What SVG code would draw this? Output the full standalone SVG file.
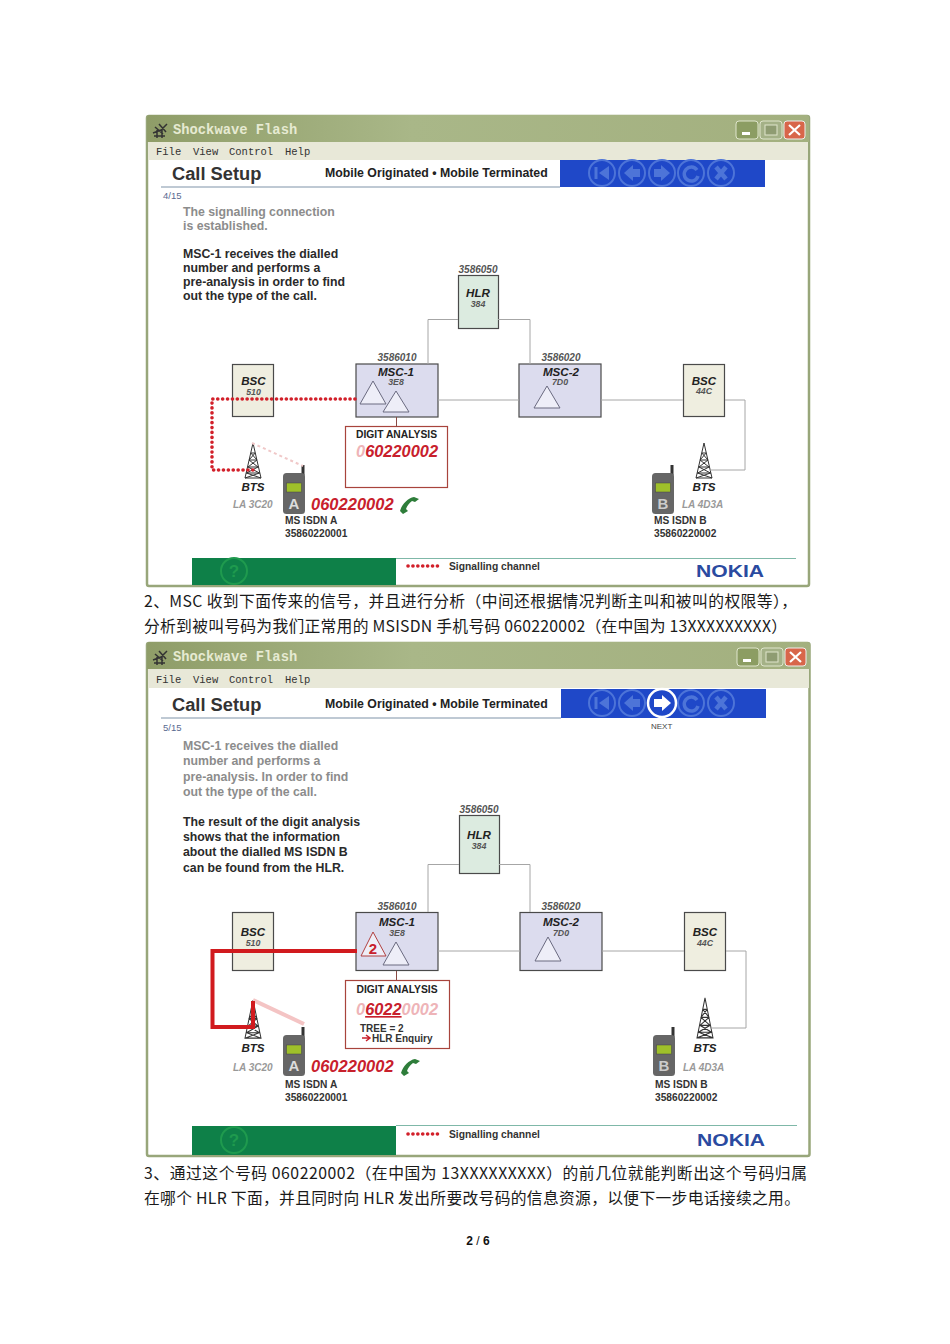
<svg xmlns="http://www.w3.org/2000/svg" width="950" height="1344" viewBox="0 0 950 1344">
<style>
text{font-family:"Liberation Sans",Arial,sans-serif;fill:#222}
.b{font-weight:bold}
.i{font-style:italic}
.c{text-anchor:middle}
.cn{font-family:"Noto Sans CJK SC","Noto Sans",sans-serif;font-size:15.800px;fill:#1a1a1a}
.ttl{font-family:"Liberation Mono",monospace;font-weight:bold;font-size:13.800px;fill:#e6ead2}
.menu{font-family:"Liberation Mono",monospace;font-size:10.500px;fill:#333}
.body{font-size:12.300px;font-weight:bold;fill:#2a2a2a}
.grey{font-size:12.300px;font-weight:bold;fill:#8c8c8c}
.node{stroke:#4a4a4a;stroke-width:1.200}
.link{fill:none;stroke:#a6a6a6;stroke-width:1}
.bsc{fill:#efeee0}.hlr{fill:#dcebe0}.msc{fill:#dcdcee}
.tri{fill:#eeeef8;stroke:#6a6a80;stroke-width:1}
.nm{font-size:11.600px;font-weight:bold;font-style:italic;text-anchor:middle}
.sb{font-size:8.800px;font-weight:bold;font-style:italic;text-anchor:middle;fill:#555}
.addr{font-size:10px;font-weight:bold;font-style:italic;text-anchor:middle;fill:#555}
.la{font-size:10px;font-weight:bold;font-style:italic;fill:#999}
.ms{font-size:10.200px;font-weight:bold;fill:#333}
.num{font-size:16.500px;font-weight:bold;font-style:italic;fill:#c8202c}
.sig{fill:none;stroke:#d2202a;stroke-width:3.600;stroke-dasharray:0.100 4.800;stroke-linecap:round}
.nav{fill:none;stroke:#4d74d8;stroke-width:2}
.navf{fill:#4d74d8}
.nok{font-size:16.500px;font-weight:bold;fill:#2a4aa0}
.sgl{font-size:10.300px;font-weight:bold;fill:#333}
.hd{font-size:18.300px;font-weight:bold;fill:#333}
.sub{font-size:12.300px;font-weight:bold;fill:#222}
.pg{font-size:9.500px;fill:#5a6a90}
</style>
<defs>
<linearGradient id="tb" x1="0" y1="0" x2="1" y2="0"><stop offset="0" stop-color="#8f9d68"/><stop offset="0.4" stop-color="#a9b788"/><stop offset="1" stop-color="#a3b07f"/></linearGradient>
<g id="tower" fill="none" stroke="#333" stroke-width="1"><path d="M0 0L-8 35L8 35ZM-2.200 10L4 17L-5 24L6.500 30L-8 35M2.200 10L-4 17L5 24L-6.500 30L8 35M-2.200 10H2.200M-4 17H4M-5.500 24H5.500M-6.800 30H6.800"/></g>
<g id="phone"><rect x="18.500" y="-2" width="3" height="10" fill="#333"/><rect x="0" y="6" width="22" height="41" rx="3.500" fill="#666"/><rect x="3.500" y="16" width="15" height="9" fill="#9fc02a" stroke="#444" stroke-width="0.500"/></g>
<g id="handset"><path d="M0 15C2 8 8 2 14 1L19 3L15 6L12 5C9 7 7 10 6 13L8 15L3 18Z" fill="#2e7d3a"/></g>
<g id="nav"><circle cx="0" cy="0" r="13" class="nav"/></g>
<g id="ctrls"><rect x="0" y="0" width="22" height="18" rx="3" fill="#8c9d63" stroke="#dfe5cc"/><rect x="6" y="11" width="8" height="3" fill="#fff"/>
<rect x="24" y="0" width="22" height="18" rx="3" fill="#a4b187" stroke="#dfe5cc"/><rect x="29" y="4" width="12" height="10" fill="#8f9c72" stroke="#dfe5cc"/>
<rect x="48" y="0" width="21" height="18" rx="3" fill="#d8664a" stroke="#eee"/><path d="M53 4L64 14M64 4L53 14" stroke="#fff" stroke-width="2.200"/></g>
<g id="navs"><use href="#nav" x="13"/><use href="#nav" x="43"/><use href="#nav" x="73"/><use href="#nav" x="102"/><use href="#nav" x="132"/>
<path d="M7 -6V6" stroke="#4d74d8" stroke-width="3"/><path d="M20 -7L10 0L20 7Z" class="navf"/>
<path d="M35 0L44 -8V-4H51V4H44V8Z" class="navf"/>
<path d="M81 0L72 -8V-4H65V4H72V8Z" class="navf"/>
<path d="M108 -3A7 7 0 1 0 109 3" fill="none" stroke="#4d74d8" stroke-width="3.500"/>
<path d="M127 -6L137 6M137 -6L127 6" stroke="#4d74d8" stroke-width="4.500"/></g>
<g id="logo" fill="none" stroke="#333" stroke-width="1.500"><path d="M0 6L8 3L14 -3M2 0L10 7M6 -3L13 5M1 9H12M4 3V11M9 2V11"/></g>
</defs>

<rect width="950" height="1344" fill="#fff"/>

<g id="window-1">
<rect x="147" y="116" width="662" height="470" rx="2" fill="#fff" stroke="#98a67a" stroke-width="2.500"/>
<path d="M147 118Q147 115 150 115H806Q809 115 809 118V142H147Z" fill="url(#tb)"/>
<rect x="148" y="142" width="660" height="18" fill="#e8e8d8"/>
<use href="#logo" x="153" y="127"/>
<text class="ttl" x="173" y="134">Shockwave Flash</text>
<use href="#ctrls" x="736" y="121"/>
<text class="menu" x="156" y="155">File</text><text class="menu" x="193" y="155">View</text><text class="menu" x="229" y="155">Control</text><text class="menu" x="285" y="155">Help</text>
<text x="172" y="180" class="hd">Call Setup</text>
<text x="325" y="177" class="sub">Mobile Originated • Mobile Terminated</text>
<rect x="560" y="160" width="205" height="27" fill="#1f48c8"/>
<use href="#navs" x="589" y="173"/>
<path d="M161 187H560" stroke="#7f93a8" stroke-width="1"/>
<text x="163" y="199" class="pg">4/15</text>
<text class="grey" x="183" y="216">The signalling connection</text>
<text class="grey" x="183" y="230">is established.</text>
<text class="body" x="183" y="258">MSC-1 receives the dialled</text>
<text class="body" x="183" y="272">number and performs a</text>
<text class="body" x="183" y="286">pre-analysis in order to find</text>
<text class="body" x="183" y="300">out the type of the call.</text>

<g id="w1-hlr"><text class="addr" x="478" y="273">3586050</text><rect class="node hlr" x="458.500" y="275.500" width="40" height="53"/><text class="nm" x="478" y="297">HLR</text><text class="sb" x="478" y="306.500">384</text></g>
<g id="w1-bsc510"><rect class="node bsc" x="232.500" y="364.500" width="41" height="52"/><text class="nm" x="253.500" y="385">BSC</text><text class="sb" x="253.500" y="395">510</text></g>
<g id="w1-msc1"><text class="addr" x="397" y="361">3586010</text><rect class="node msc" x="356" y="364" width="82" height="53"/><text class="nm" x="396" y="375.500">MSC-1</text><text class="sb" x="396" y="385">3E8</text><path class="tri" d="M373 381L360 404H386Z"/><path class="tri" d="M396 391L383 412H409Z"/></g>
<g id="w1-msc2"><text class="addr" x="561" y="361">3586020</text><rect class="node msc" x="519" y="364" width="82" height="53"/><text class="nm" x="561" y="375.500">MSC-2</text><text class="sb" x="560" y="385">7D0</text><path class="tri" d="M547 386L534 408H560Z"/></g>
<g id="w1-bsc44c"><rect class="node bsc" x="683.500" y="364.500" width="41" height="52"/><text class="nm" x="704" y="384.500">BSC</text><text class="sb" x="704" y="394">44C</text></g>
<g id="w1-digit"><rect x="345.500" y="426.500" width="102" height="61" fill="#fff" stroke="#a8443c" stroke-width="1.200"/><text x="396.500" y="437.500" class="c b" font-size="10.300">DIGIT ANALYSIS</text><text x="356" y="457" class="b i" font-size="16.400"><tspan fill="#eeb4b8">0</tspan><tspan fill="#c8202c">60220002</tspan></text></g>
<g id="w1-bts-a"><use href="#tower" x="253" y="443"/><text class="nm" x="253" y="491">BTS</text><text class="la" x="233" y="508">LA 3C20</text></g>
<g id="w1-ms-a"><use href="#phone" x="283" y="467"/><text x="294" y="509" class="c b" font-size="15" style="fill:#ddd">A</text><text class="num" x="311" y="510">060220002</text><use href="#handset" x="400" y="496"/><text class="ms" x="285" y="524">MS ISDN A</text><text class="ms" x="285" y="536.500">35860220001</text></g>
<g id="w1-bts-b"><use href="#tower" x="704" y="443"/><text class="nm" x="704" y="491">BTS</text><text class="la" x="682" y="508">LA 4D3A</text></g>
<g id="w1-ms-b"><use href="#phone" x="652" y="467"/><text x="663" y="509" class="c b" font-size="15" style="fill:#ccc">B</text><text class="ms" x="654" y="524">MS ISDN B</text><text class="ms" x="654" y="536.500">35860220002</text></g>
<g id="w1-footer"><rect x="192" y="558" width="204" height="27" fill="#0e8048"/><circle cx="234" cy="571" r="13" fill="none" stroke="#1f9a4e" stroke-width="2"/><text x="234" y="577" class="c b" font-size="17" style="fill:#1f9a4e">?</text><path d="M396 558.500H796" stroke="#7fb8a8"/><path class="sig" d="M408 566H440"/><text x="449" y="570" class="sgl">Signalling channel</text><text x="696" y="577" class="nok" textLength="68" lengthAdjust="spacingAndGlyphs">NOKIA</text></g>
<g id="w1-connectors">
<path class="link" d="M458 319.500H428V364M498 319.500H530V364M438 400H519M601 400H683M725 400H745V470H710"/>
<path d="M396.500 417V427" stroke="#8a4a44" stroke-width="1"/>
<path class="sig" d="M355 399H212V470H253"/>
<path d="M252 443L303 466" stroke="#f0c8c8" stroke-width="2" stroke-dasharray="3 3"/>
</g>
</g>

<text class="cn" x="144" y="607" textLength="653">2、MSC 收到下面传来的信号，并且进行分析（中间还根据情况判断主叫和被叫的权限等），</text>
<text class="cn" x="144" y="632" textLength="643">分析到被叫号码为我们正常用的 MSISDN 手机号码  060220002（在中国为 13XXXXXXXXX）</text>

<g id="window-2">
<rect x="147" y="643" width="662.500" height="513" rx="2" fill="#fff" stroke="#98a67a" stroke-width="2.500"/>
<path d="M147 645Q147 642 150 642H807Q810 642 810 645V669H147Z" fill="url(#tb)"/>
<rect x="148" y="669" width="661" height="19" fill="#e8e8d8"/>
<use href="#logo" x="153" y="654"/>
<text class="ttl" x="173" y="661">Shockwave Flash</text>
<use href="#ctrls" x="737" y="648"/>
<text class="menu" x="156" y="683">File</text><text class="menu" x="193" y="683">View</text><text class="menu" x="229" y="683">Control</text><text class="menu" x="285" y="683">Help</text>
<text x="172" y="711" class="hd">Call Setup</text>
<text x="325" y="708" class="sub">Mobile Originated • Mobile Terminated</text>
<rect x="561" y="689" width="205" height="29" fill="#1f48c8"/>
<use href="#navs" x="589" y="703"/>
<circle cx="662" cy="703" r="14" fill="#1f48c8" stroke="#fff" stroke-width="2.500"/><path d="M671 703L662 695V699H654V707H662V711Z" fill="#fff"/>
<path d="M161 718H561" stroke="#7f93a8" stroke-width="1"/>
<text x="651" y="729" font-size="8" style="fill:#444">NEXT</text>
<text x="163" y="731" class="pg">5/15</text>
<text class="grey" x="183" y="750">MSC-1 receives the dialled</text>
<text class="grey" x="183" y="765">number and performs a</text>
<text class="grey" x="183" y="781">pre-analysis. In order to find</text>
<text class="grey" x="183" y="796">out the type of the call.</text>
<text class="body" x="183" y="826">The result of the digit analysis</text>
<text class="body" x="183" y="841">shows that the information</text>
<text class="body" x="183" y="856">about the dialled MS ISDN B</text>
<text class="body" x="183" y="872">can be found from the HLR.</text>

<g id="w2-hlr"><text class="addr" x="479" y="813">3586050</text><rect class="node hlr" x="459.500" y="815.500" width="40" height="58"/><text class="nm" x="479" y="838.500">HLR</text><text class="sb" x="479" y="848.500">384</text></g>
<g id="w2-bsc510"><rect class="node bsc" x="232.500" y="912.500" width="41" height="58"/><text class="nm" x="253" y="935.500">BSC</text><text class="sb" x="253" y="945.500">510</text></g>
<g id="w2-msc1"><text class="addr" x="397" y="910">3586010</text><rect class="node msc" x="356" y="912.500" width="82" height="58" stroke-width="1.500"/><text class="nm" x="397" y="926">MSC-1</text><text class="sb" x="397" y="936">3E8</text><path class="tri" d="M373 932L361 956H386Z" style="stroke:#b04040"/><text x="373" y="954" class="c b" font-size="15" style="fill:#c8202c">2</text><path class="tri" d="M396 942L383 965H409Z"/></g>
<g id="w2-msc2"><text class="addr" x="561" y="910">3586020</text><rect class="node msc" x="520" y="912.500" width="82" height="58"/><text class="nm" x="561" y="926">MSC-2</text><text class="sb" x="561" y="936">7D0</text><path class="tri" d="M548 937L535 961H561Z"/></g>
<g id="w2-bsc44c"><rect class="node bsc" x="684.500" y="912.500" width="41" height="58"/><text class="nm" x="705" y="935.500">BSC</text><text class="sb" x="705" y="945.500">44C</text></g>
<g id="w2-digit"><rect x="345.500" y="980.500" width="104" height="68" fill="#fff" stroke="#a8443c" stroke-width="1.200"/><text x="397" y="993" class="c b" font-size="10.300">DIGIT ANALYSIS</text><text x="356" y="1015" class="b i" font-size="16.400"><tspan fill="#eeb4b8">0</tspan><tspan fill="#c8202c" text-decoration="underline">6022</tspan><tspan fill="#eeb4b8">0002</tspan></text><text x="360" y="1031.500" class="b" font-size="10" style="fill:#333">TREE = 2</text><path d="M362 1038H369M366 1035L370 1038L366 1041" stroke="#c8202c" stroke-width="1.500" fill="none"/><text x="372" y="1042" class="b" font-size="10" style="fill:#333">HLR Enquiry</text></g>
<g id="w2-bts-a"><use href="#tower" transform="translate(253 1000) scale(1 1.090)"/><text class="nm" x="253" y="1052">BTS</text><text class="la" x="233" y="1071">LA 3C20</text></g>
<g id="w2-ms-a"><use href="#phone" x="283" y="1029"/><text x="294" y="1071" class="c b" font-size="15" style="fill:#ddd">A</text><text class="num" x="311" y="1072">060220002</text><use href="#handset" x="401" y="1058"/><text class="ms" x="285" y="1088">MS ISDN A</text><text class="ms" x="285" y="1101">35860220001</text></g>
<g id="w2-bts-b"><use href="#tower" transform="translate(705 998) scale(1 1.140)"/><text class="nm" x="705" y="1052">BTS</text><text class="la" x="683" y="1071">LA 4D3A</text></g>
<g id="w2-ms-b"><use href="#phone" x="653" y="1029"/><text x="664" y="1071" class="c b" font-size="15" style="fill:#ccc">B</text><text class="ms" x="655" y="1088">MS ISDN B</text><text class="ms" x="655" y="1101">35860220002</text></g>
<g id="w2-footer"><rect x="192" y="1126" width="204" height="29" fill="#0e8048"/><circle cx="234" cy="1140" r="13" fill="none" stroke="#1f9a4e" stroke-width="2"/><text x="234" y="1146" class="c b" font-size="17" style="fill:#1f9a4e">?</text><path d="M396 1125.500H797" stroke="#7fb8a8"/><path class="sig" d="M408 1134H440"/><text x="449" y="1138" class="sgl">Signalling channel</text><text x="697" y="1146" class="nok" textLength="68" lengthAdjust="spacingAndGlyphs">NOKIA</text></g>
<g id="w2-connectors">
<path class="link" d="M459 864.500H428V912M499 864.500H530V912M438 951H520M602 951H684M726 951H746V1028H711"/>
<path d="M396.500 971V980" stroke="#8a4a44" stroke-width="1"/>
<path d="M253 1000L304 1024" stroke="#f4c4c4" stroke-width="4"/>
<path d="M357 951H212.500V1027H253V1001" fill="none" stroke="#d11a1e" stroke-width="4"/>
</g>
</g>

<text class="cn" x="144" y="1179" textLength="663">3、通过这个号码 060220002（在中国为 13XXXXXXXXX）的前几位就能判断出这个号码归属</text>
<text class="cn" x="144" y="1204" textLength="656">在哪个 HLR 下面，并且同时向 HLR 发出所要改号码的信息资源，以便下一步电话接续之用。</text>
<text x="478" y="1245" class="c b" font-size="12" style="fill:#111">2 <tspan font-weight="normal">/</tspan> 6</text>
</svg>
